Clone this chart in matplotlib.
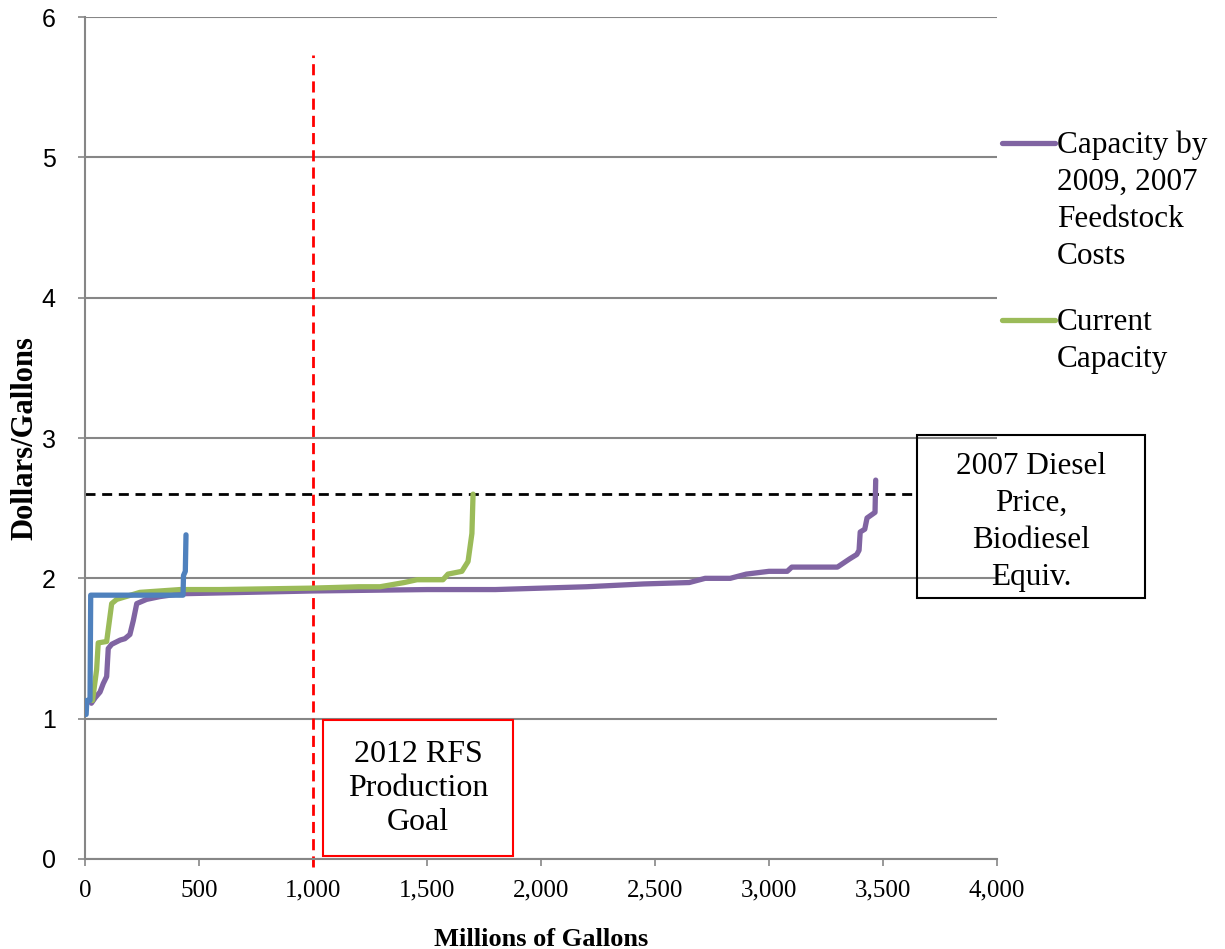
import matplotlib
matplotlib.use("Agg")
import matplotlib.pyplot as plt
from matplotlib.patches import Rectangle
from matplotlib.lines import Line2D
from matplotlib.ticker import FuncFormatter

# Supply curves: cumulative capacity (millions of gallons) vs. cost ($/gallon)
cap2009_x = [28, 45, 66, 80, 95, 102, 117, 154, 175, 197, 212, 227, 270, 329, 417,
             709, 1000, 1500, 1800, 2000, 2200, 2450, 2650, 2720, 2830, 2900, 3000,
             3080, 3100, 3300, 3355, 3385, 3395, 3400, 3420, 3430, 3465, 3468]
cap2009_y = [1.11, 1.15, 1.19, 1.25, 1.30, 1.50, 1.53, 1.56, 1.57, 1.60, 1.70, 1.82,
             1.85, 1.87, 1.89, 1.90, 1.91, 1.92, 1.92, 1.93, 1.94, 1.96, 1.97, 2.00,
             2.00, 2.03, 2.05, 2.05, 2.08, 2.08, 2.14, 2.17, 2.20, 2.33, 2.35, 2.43,
             2.47, 2.70]

current_x = [33, 51, 58, 95, 117, 139, 241, 417, 592, 987, 1100, 1200, 1294, 1400,
             1456, 1570, 1592, 1653, 1680, 1697, 1702]
current_y = [1.13, 1.35, 1.54, 1.55, 1.82, 1.85, 1.90, 1.92, 1.92, 1.93, 1.935, 1.94,
             1.94, 1.97, 1.99, 1.99, 2.03, 2.05, 2.12, 2.32, 2.60]

other_x = [5, 8, 22, 25, 430, 432, 440, 443]
other_y = [1.03, 1.13, 1.13, 1.88, 1.88, 2.02, 2.05, 2.31]

diesel_price = 2.60
rfs_goal = 1000

x_ticks = [0, 500, 1000, 1500, 2000, 2500, 3000, 3500, 4000]
y_ticks = [0, 1, 2, 3, 4, 5, 6]

PURPLE = "#8064A2"
GREEN = "#9BBB59"
BLUE = "#4F81BD"
GRID = "#868686"

serif = ["Liberation Serif", "DejaVu Serif"]
sans = ["Liberation Sans", "DejaVu Sans"]

fig = plt.figure(figsize=(12.25, 9.49), dpi=100)
ax = fig.add_axes([85 / 1225, 90 / 949, 912 / 1225, 842 / 949])

ax.set_xlim(0, 4000)
ax.set_ylim(0, 6)
ax.set_xticks(x_ticks)
ax.set_yticks(y_ticks)
ax.xaxis.set_major_formatter(FuncFormatter(lambda v, p: f"{int(v):,}"))

for s in ["top", "right"]:
    ax.spines[s].set_visible(False)
for s in ["left", "bottom"]:
    ax.spines[s].set_color(GRID)
    ax.spines[s].set_linewidth(1.5)

ax.yaxis.grid(True, color=GRID, linewidth=1.5)
ax.set_axisbelow(True)
ax.tick_params(axis="y", direction="out", length=5, width=1.2, color=GRID, pad=16)
ax.tick_params(axis="x", direction="out", length=5, width=1.2, color=GRID, pad=10)
for lab in ax.get_yticklabels():
    lab.set_fontfamily(sans)
    lab.set_fontsize(18)
for lab in ax.get_xticklabels():
    lab.set_fontfamily(serif)
    lab.set_fontsize(18)

ax.set_xlabel("Millions of Gallons", fontfamily=serif, fontweight="bold",
              fontsize=19, labelpad=19)
ax.set_ylabel("Dollars/Gallons", fontfamily=serif, fontweight="bold",
              fontsize=22, labelpad=2)

# Reference lines
ax.plot([0, 3650], [diesel_price, diesel_price], color="black", linewidth=2,
        dashes=(3.6, 2.4), zorder=2)
ax.plot([rfs_goal, rfs_goal], [-0.06, 5.73], color="#FF0000", linewidth=2,
        dashes=(4.0, 2.2), zorder=2, clip_on=False)

lw = 3.8
for xs, ys, c, z in [(cap2009_x, cap2009_y, PURPLE, 3),
                     (current_x, current_y, GREEN, 4),
                     (other_x, other_y, BLUE, 5)]:
    ax.plot(xs, ys, color=c, linewidth=lw, solid_capstyle="round",
            solid_joinstyle="round", zorder=z)

# Annotation boxes
ax.add_patch(Rectangle((1044, 0.02), 833, 0.97, fill=False, edgecolor="#FF0000",
                       linewidth=1.5, clip_on=False, zorder=6))
ax.text(1460, 0.50, "2012 RFS\nProduction\nGoal", ha="center", va="center",
        fontfamily=serif, fontsize=23, linespacing=1.22, zorder=7)

ax.add_patch(Rectangle((3649, 1.86), 1000, 1.16, fill=False, edgecolor="black",
                       linewidth=1.5, clip_on=False, zorder=6))
ax.text(4149, 2.40, "2007 Diesel\nPrice,\nBiodiesel\nEquiv.", ha="center",
        va="center", fontfamily=serif, fontsize=22.5, linespacing=1.36, zorder=7,
        clip_on=False)

# Legend
W, H = 1225, 949
def legend_entry(y_px, color, label):
    fig.add_artist(Line2D([1002 / W, 1055 / W], [1 - y_px / H, 1 - y_px / H],
                          color=color, linewidth=lw, solid_capstyle="round"))
    fig.text(1057 / W, 1 - (y_px - 12) / H, label, ha="left", va="top",
             fontfamily=serif, fontsize=22.5, linespacing=1.35)

legend_entry(143, PURPLE, "Capacity by\n2009, 2007\nFeedstock\nCosts")
legend_entry(320, GREEN, "Current\nCapacity")

fig.savefig("out.png", dpi=100)
